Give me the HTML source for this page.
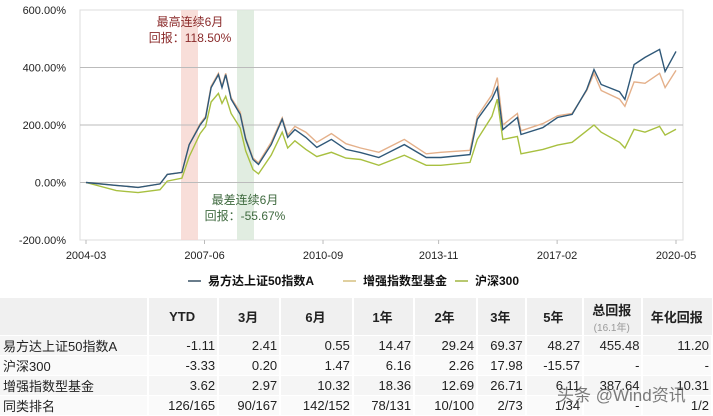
<!DOCTYPE html>
<html><head><meta charset="utf-8">
<style>
body{margin:0;width:713px;height:416px;background:#fff;overflow:hidden;font-family:"Liberation Sans","Noto Sans CJK SC",sans-serif;position:relative}
svg{position:absolute;left:0;top:0}
table{position:absolute;left:0;top:298px;border-collapse:collapse;font-size:13px;color:#222}
td,th{padding:0 2px 0 0;text-align:right;border-right:2px solid #fff;border-bottom:1px solid #fff;white-space:nowrap}
th{height:37px;background:#f0f0f0;text-align:center;font-weight:bold;font-size:13px}
td{height:19px;background:#f5f5f5}
tr.w td{background:#fafafa}
td.n{text-align:left;padding-left:3px}
.sub{font-weight:normal;color:#999;font-size:10px;display:block}
.wm{position:absolute;left:557px;top:381px;font-size:17px;color:rgba(80,80,80,0.75)}
</style></head><body>
<svg id="chart" width="713" height="298"></svg>
<table>
<tr><th style="width:148px"></th><th style="width:68px">YTD</th><th style="width:60px">3月</th><th style="width:71px">6月</th><th style="width:59px">1年</th><th style="width:61px">2年</th><th style="width:46px">3年</th><th style="width:55px">5年</th><th style="width:57px">总回报<span class="sub">(16.1年)</span></th><th style="width:68px;border-right:0">年化回报</th></tr>
<tr><td class="n">易方达上证50指数A</td><td>-1.11</td><td>2.41</td><td>0.55</td><td>14.47</td><td>29.24</td><td>69.37</td><td>48.27</td><td>455.48</td><td>11.20</td></tr>
<tr class="w"><td class="n">沪深300</td><td>-3.33</td><td>0.20</td><td>1.47</td><td>6.16</td><td>2.26</td><td>17.98</td><td>-15.57</td><td>-</td><td>-</td></tr>
<tr><td class="n">增强指数型基金</td><td>3.62</td><td>2.97</td><td>10.32</td><td>18.36</td><td>12.69</td><td>26.71</td><td>6.11</td><td>387.64</td><td>10.31</td></tr>
<tr class="w"><td class="n">同类排名</td><td>126/165</td><td>90/167</td><td>142/152</td><td>78/131</td><td>10/100</td><td>2/73</td><td>1/34</td><td>-</td><td>1/2</td></tr>
</table>
<div class="wm">头条 @Wind资讯</div>
<script>
const dates=[2004.17,2005.0,2005.6,2006.2,2006.4,2006.8,2007.0,2007.3,2007.45,2007.6,2007.8,2007.9,2008.0,2008.15,2008.4,2008.55,2008.75,2008.9,2009.25,2009.55,2009.7,2009.9,2010.2,2010.5,2010.9,2011.3,2011.7,2012.2,2012.9,2013.5,2013.9,2014.7,2014.9,2015.3,2015.45,2015.6,2016.0,2016.1,2016.7,2017.1,2017.5,2017.9,2018.1,2018.3,2018.8,2018.95,2019.2,2019.5,2019.9,2020.05,2020.35];
const fundA=[0,-10,-17,-5,28,35,132,200,225,330,375,330,375,290,237,150,80,63,132,220,157,184,157,122,150,115,104,87,132,87,87,97,220,290,330,184,226,167,191,226,237,323,393,341,316,289,410,435,463,386,456];
const enhanced=[0,-10,-17,-5,28,35,132,205,230,335,380,335,380,295,245,155,85,68,140,225,165,195,175,140,170,135,120,105,150,100,105,112,230,305,365,200,240,180,205,232,240,320,380,320,290,265,350,345,380,330,390];
const hs300=[0,-28,-35,-25,5,15,90,170,195,280,310,275,300,240,190,110,45,30,95,175,120,145,115,90,105,85,80,60,95,60,60,70,150,230,290,150,160,100,115,130,140,180,200,175,140,120,185,175,195,165,185];
const yTicks=[600,400,200,0,-200];
const xTickLabels=["2004-03","2007-06","2010-09","2013-11","2017-02","2020-05"];
const xTickDates=[2004.17,2007.42,2010.67,2013.84,2017.09,2020.35];
const legendNames=["易方达上证50指数A","增强指数型基金","沪深300"];
const NS="http://www.w3.org/2000/svg";
const svg=document.getElementById('chart');
const L=80,R=683,T=10,B=240;
const X=d=>86+(d-2004.17)/(2020.35-2004.17)*(676-86);
const Y=v=>B-(v+200)/800*(B-T);
function mk(tag,attrs){const e=document.createElementNS(NS,tag);for(const k in attrs)e.setAttribute(k,attrs[k]);svg.appendChild(e);return e;}
// frame
let fr=mk('rect',{x:L,y:T,width:R-L,height:B-T,fill:'none',stroke:'#ddd'});


// bands
let b1=mk('rect',{x:181,y:T,width:17,height:B-T,fill:'#f6d6cf',opacity:0.8});


let b2=mk('rect',{x:237,y:T,width:17,height:B-T,fill:'#d9e8da',opacity:0.8});


yTicks.forEach(v=>{
 if(v<600&&v>-200){let g=mk('line',{x1:L,x2:R,y1:Y(v),y2:Y(v),stroke:'#bbb'});
 
 }
 let t=mk('text',{x:66,y:Y(v)+4,'text-anchor':'end','font-size':11,fill:'#222'});t.textContent=v.toFixed(2)+'%';
 
 
});
xTickDates.forEach((d,i)=>{
 let l=mk('line',{x1:X(d),x2:X(d),y1:B,y2:B+4,stroke:'#bbb'});
 
 
 let t=mk('text',{x:X(d),y:B+19,'text-anchor':'middle','font-size':11,fill:'#222'});t.textContent=xTickLabels[i];
 
 
});
const series=[[hs300,'#a8c040','hs300-line'],[enhanced,'#e4b08a','enhanced-line'],[fundA,'#2f5878','fund-a-line']];
series.forEach(([vals,c,n])=>{
 let p=mk('polyline',{points:vals.map((v,i)=>X(dates[i]).toFixed(1)+','+Y(v).toFixed(1)).join(' '),fill:'none',stroke:c,'stroke-width':1.4});
 
 
});
function txt(x,y,s,c,n){let t=mk('text',{x:x,y:y,'text-anchor':'middle','font-size':12,fill:c});t.textContent=s;
 
 }
txt(190,26,'最高连续6月','#8a2a2a','best-label');
txt(190,42,'回报：118.50%','#8a2a2a','best-value');
txt(245,204,'最差连续6月','#3f6a3f','worst-label');
txt(245,220,'回报：-55.67%','#3f6a3f','worst-value');
const lx=[188,343,455],lc=['#6a7d8c','#e0d0a0','#b8c870'];
legendNames.forEach((nm,i)=>{
 let l=mk('line',{x1:lx[i],x2:lx[i]+13,y1:281,y2:281,stroke:lc[i],'stroke-width':2});
 
 
 let t=mk('text',{x:lx[i]+20,y:285,'font-size':12,'font-weight':'bold',fill:'#111'});t.textContent=nm;
 
 
});
</script>
</body></html>
